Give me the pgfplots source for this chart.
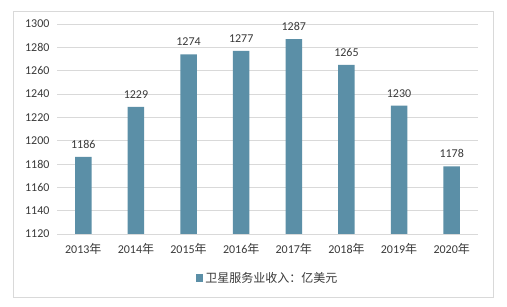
\documentclass[border=0pt]{standalone}
\usepackage{pgfplots}
\pgfplotsset{compat=1.18}
\usepackage{fontspec}
\setmainfont{Carlito}
\newfontfamily\cjk{Noto Sans CJK SC}
\definecolor{barc}{HTML}{5B8FA7}
\definecolor{txt}{HTML}{3A3A3A}
\definecolor{gridc}{HTML}{D9D9D9}
\begin{document}
\begin{tikzpicture}[x=1pt,y=1pt]
\path[fill=white] (0,0) rectangle (507,307);
\draw[color=gridc, line width=0.8pt] (13,10) rectangle (493,296);
\begin{axis}[
  at={(57pt,73pt)}, anchor=south west,
  scale only axis, width=421pt, height=210pt,
  xmin=-0.5, xmax=7.5, ymin=1120, ymax=1300,
  ytick={1120,1140,...,1300},
  xtick={0,...,7},
  xticklabels={2013{\cjk 年},2014{\cjk 年},2015{\cjk 年},2016{\cjk 年},2017{\cjk 年},2018{\cjk 年},2019{\cjk 年},2020{\cjk 年}},
  ymajorgrids, grid style={color=gridc, line width=0.8pt},
  axis x line*=bottom, axis y line*=left,
  y axis line style={draw=none},
  x axis line style={color=gridc, line width=0.8pt, -},
  major tick length=0pt,
  tick label style={color=txt, font=\fontsize{12}{14}\selectfont},
  /pgf/number format/assume math mode=true,
  /pgf/number format/1000 sep={},
  yticklabel style={xshift=-4pt},
  xticklabel style={yshift=-6pt},
  legend style={at={(0.5,-0.21)}, anchor=center, draw=none, font=\fontsize{12}{14}\selectfont\cjk, text=txt, legend image code/.code={\fill[barc] (0pt,-3.8pt) rectangle (7.6pt,3.8pt);}},
  nodes near coords,
  nodes near coords style={color=txt, font=\fontsize{12}{14}\selectfont, yshift=5pt},
  clip=false,
]
\addplot[ybar, bar width=16.5pt, fill=barc, draw=none, point meta=explicit symbolic] table[meta=v] {
x y v
0 1186 1186
1 1229 1229
2 1274 1274
3 1277 1277
4 1287 1287
5 1265 1265
6 1230 1230
7 1178 1178
};
\addlegendentry{卫星服务业收入：亿美元}
\end{axis}
\end{tikzpicture}
\end{document}
